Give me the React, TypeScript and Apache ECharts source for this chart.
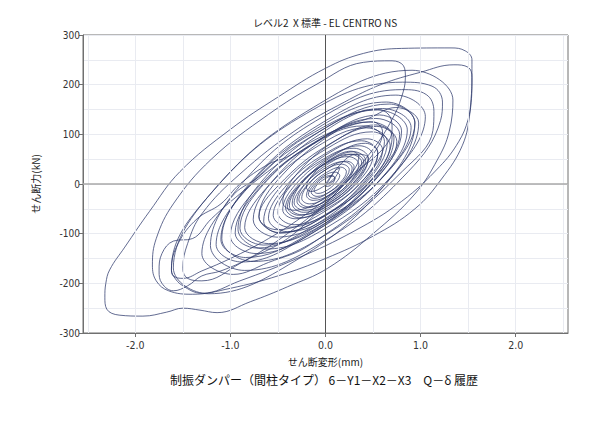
import React, { useEffect, useRef } from "react";
import * as echarts from "echarts";

type P = [number, number];

const chartTitle = "レベル2  X 標準 - EL CENTRO NS";
const subTitle = "制振ダンパー（間柱タイプ） 6－Y1－X2－X3　Q－δ 履歴";
const xAxisName = "せん断変形(mm)";
const yAxisName = "せん断力(kN)";

const xTickValues = [-2, -1, 0, 1, 2];
const xGridValues = [-2.5, -2, -1.5, -1, -0.5, 0.5, 1, 1.5, 2, 2.5];

const earlyCycles: P[] = [
  [0, 0], [0.05, 14], [0.1, 27], [0.15, 32],
  [0.1, 13], [-0.03, -6], [-0.15, -15], [-0.2, -8],
  [-0.12, 22], [0.08, 53], [0.27, 66], [0.35, 55],
  [0.23, 12], [-0.05, -33], [-0.33, -53], [-0.45, -37],
  [-0.28, 25], [0.13, 90], [0.53, 119], [0.7, 96],
  [0.44, -2], [-0.2, -103], [-0.84, -148], [-1.1, -112],
  [-0.8, -2], [-0.08, 113], [0.64, 165], [0.94, 123],
  [0.57, -14], [-0.33, -156], [-1.23, -221], [-1.6, -169],
  [-1.17, -11], [-0.13, 154], [0.91, 229], [1.34, 169],
];

const largeCycles: P[] = [
  [1.3, 105], [1.18, 50], [0.94, -20], [0.5, -100], [0.02, -170], [-0.4, -207],
  [-0.79, -237], [-1.14, -259], [-1.32, -254], [-1.5, -250], [-1.67, -258],
  [-1.92, -266], [-2.17, -264], [-2.3, -252], [-2.32, -228],
  [-2.31, -200], [-2.27, -173], [-2.11, -127], [-1.85, -55], [-1.53, 25], [-1.0, 110],
  [-0.5, 175], [0, 233], [0.4, 263], [0.8, 273], [1.32, 274], [1.47, 268], [1.54, 250], [1.54, 215],
  [1.52, 145], [1.44, 78], [1.22, 10], [0.94, -50], [0.5, -105], [0, -150], [-0.5, -185],
  [-1.0, -210], [-1.4, -222], [-1.65, -215], [-1.78, -195], [-1.82, -163],
  [-1.78, -110], [-1.6, -40], [-1.2, 50], [-0.6, 140], [-0.1, 200], [0.4, 245], [0.7, 248],
  [0.82, 238], [0.84, 215],
  [0.8, 175], [0.7, 130], [0.5, 70], [0.1, -20], [-0.4, -100], [-0.9, -160], [-1.3, -195],
  [-1.45, -190], [-1.5, -170],
  [-1.45, -120], [-1.3, -60], [-0.9, 20], [-0.3, 110], [0.2, 165], [0.58, 200], [1.0, 225],
  [1.35, 240], [1.5, 235], [1.54, 215],
  [1.53, 170], [1.5, 130], [1.4, 85], [1.2, 35], [0.8, -35], [0.3, -95], [-0.3, -150],
  [-0.9, -195], [-1.3, -220], [-1.5, -205], [-1.6, -185], [-1.62, -171],
];

const wigglyCycles: P[] = [
  [-1.55, -120], [-1.35, -70], [-1.1, -40], [-0.9, 0], [-0.6, 40], [-0.4, 55], [-0.1, 95],
  [0.3, 140], [0.55, 150], [0.68, 135], [0.7, 110],
  [0.6, 70], [0.3, 20], [0, -40], [-0.4, -110], [-0.8, -150], [-1.1, -175], [-1.3, -185],
  [-1.45, -205], [-1.6, -215], [-1.72, -200], [-1.75, -175],
  [-1.72, -140], [-1.6, -115], [-1.4, -110], [-1.2, -70], [-0.9, -20], [-0.5, 40], [-0.1, 90],
  [0.3, 120], [0.5, 125], [0.6, 105],
  [0.5, 60], [0.2, 0], [-0.2, -60], [-0.6, -110], [-1.0, -150], [-1.3, -175], [-1.5, -190],
  [-1.6, -185], [-1.62, -171],
];

const mediumCycles: P[] = [
  [-1.2, -18], [-0.2, 142], [0.81, 205], [1.12, 197], [1.23, 165],
  [1.21, 128], [0.87, 25], [0.01, -112], [-0.85, -174], [-1.21, -124],
  [-0.87, 3], [-0.04, 134], [0.8, 190], [1.06, 180], [1.14, 146],
  [1.13, 108], [0.81, 26], [0.03, -99], [-0.76, -156], [-1.09, -110],
  [-0.78, 5], [-0.02, 125], [0.74, 179], [1.05, 136],
  [0.76, 30], [0.07, -81], [-0.63, -131], [-0.92, -91],
  [-0.65, 10], [0.01, 114], [0.67, 161], [0.94, 123],
  [0.69, 32], [0.09, -64], [-0.51, -107], [-0.76, -72],
  [-0.53, 12], [0.02, 99], [0.57, 139], [0.8, 107],
  [0.55, 15], [-0.05, -80], [-0.65, -123], [-0.9, -89],
  [-0.68, -7], [-0.14, 79], [0.4, 117], [0.62, 86],
  [0.43, 15], [-0.04, -59], [-0.51, -92], [-0.7, -66],
];

const laterCycles: P[] = [
  [-0.46, 17], [0.14, 110], [0.45, 132], [0.74, 154], [0.98, 123],
  [0.65, 4], [-0.16, -122], [-0.6, -158], [-0.97, -182], [-1.3, -140],
  [-0.99, -27], [-0.7, 15], [-0.22, 93], [0.55, 149], [0.86, 109],
  [0.59, 12], [-0.07, -91], [-0.73, -140], [-1.0, -105],
  [-0.75, -15], [-0.14, 80], [0.47, 125], [0.72, 93],
  [0.45, -5], [-0.22, -108], [-0.88, -157], [-1.15, -122],
  [-0.85, -15], [-0.13, 98], [0.6, 152], [0.9, 114],
  [0.64, 22], [0.03, -75], [-0.6, -120], [-0.85, -88],
  [-0.63, -10], [-0.1, 74], [0.43, 113], [0.65, 85],
  [0.42, 1], [-0.15, -87], [-0.72, -129], [-0.95, -99],
  [-0.7, -9], [-0.09, 87], [0.53, 132], [0.78, 100],
  [0.56, 23], [0.04, -59], [-0.48, -98], [-0.7, -66],
];

const smallCycles: P[] = [
  [-0.49, -2], [0.03, 79], [0.54, 116], [0.75, 86],
  [0.55, 14], [0.08, -62], [-0.4, -96], [-0.6, -69],
  [-0.43, -7], [-0.03, 58], [0.38, 87], [0.55, 63],
  [0.38, -1], [-0.05, -69], [-0.48, -99], [-0.65, -75],
  [-0.46, -3], [0.02, 72], [0.49, 105], [0.68, 78],
  [0.51, 15], [0.09, -52], [-0.33, -82], [-0.5, -58],
  [-0.34, 2], [0.05, 64], [0.44, 91], [0.6, 69],
  [0.43, 7], [0.03, -58], [-0.38, -87], [-0.55, -63],
  [-0.4, -9], [-0.05, 47], [0.3, 72], [0.45, 52],
  [0.32, 3], [0, -47], [-0.32, -70], [-0.45, -52],
  [-0.31, 0], [0.03, 53], [0.36, 77], [0.5, 58],
  [0.37, 10], [0.06, -39], [-0.25, -62], [-0.38, -44],
  [-0.26, 0], [0.02, 44], [0.3, 65], [0.42, 48],
  [0.3, 4], [0.01, -42], [-0.28, -63], [-0.4, -46],
  [-0.29, -6], [-0.03, 37], [0.24, 55], [0.35, 40],
  [0.26, 5], [0.03, -31], [-0.21, -48], [-0.3, -35],
  [-0.2, 3], [0.05, 43], [0.3, 60], [0.4, 46],
  [0.29, 7], [0.04, -34], [-0.22, -53], [-0.33, -38],
  [-0.24, -5], [-0.03, 29], [0.19, 45], [0.28, 32],
  [0.2, 4], [0.02, -26], [-0.17, -40], [-0.25, -29],
  [-0.17, 1], [0.03, 32], [0.22, 46], [0.3, 35],
  [0.23, 8], [0.05, -21], [-0.13, -33], [-0.2, -23],
  [-0.14, 0], [0.01, 23], [0.16, 34], [0.22, 25],
  [0.16, 4], [0.02, -19], [-0.12, -29], [-0.18, -21],
  [-0.13, -3], [-0.02, 16], [0.1, 24], [0.15, 17],
  [0.11, 3], [0.02, -12], [-0.08, -19], [-0.12, -14],
  [-0.09, -2], [-0.01, 10], [0.07, 16], [0.1, 12],
  [0.05, -3], [0, -5],
];

const tailCycles: P[] = [
  [0.15, 38], [0.33, 60], [0.45, 52],
  [0.33, 9], [0.05, -36], [-0.23, -57], [-0.35, -40],
  [-0.22, 8], [0.1, 59], [0.42, 82], [0.55, 63],
  [0.41, 11], [0.07, -43], [-0.28, -68], [-0.42, -48],
  [-0.3, -5], [-0.02, 40], [0.26, 60], [0.38, 44],
  [0.28, 8], [0.05, -29], [-0.18, -46], [-0.28, -32],
  [-0.2, -4], [-0.02, 26], [0.17, 40], [0.25, 29],
  [0.19, 7], [0.05, -15], [-0.09, -25], [-0.15, -17],
  [-0.11, -3], [-0.03, 12], [0.06, 17], [0.1, 12],
  [0.05, 2], [0, 0],
];

const numFont = "'Liberation Sans Narrow', 'DejaVu Sans Condensed', sans-serif";
const jpFont = "'Noto Sans CJK JP', sans-serif";
const gridColor = "#e9ebf1";
const lineColor = "#2e3a6c";

export default function App() {
  const ref = useRef<HTMLDivElement>(null);
  useEffect(() => {
    if (!ref.current) return;
    const chart = echarts.init(ref.current, undefined, { renderer: "svg" });
    const trace = [
      ...earlyCycles,
      ...largeCycles,
      ...wigglyCycles,
      ...mediumCycles,
      ...laterCycles,
      ...smallCycles,
      ...tailCycles,
    ];
    chart.setOption({
      animation: false,
      backgroundColor: "#ffffff",
      grid: {
        left: 83,
        right: 46,
        top: 35,
        bottom: 90,
        show: true,
        borderColor: "#707070",
        borderWidth: 1,
        containLabel: false,
      },
      graphic: [
        {
          type: "text",
          x: 325,
          y: 22,
          style: {
            text: chartTitle,
            textAlign: "center",
            textVerticalAlign: "middle",
            fontSize: 10,
            fontFamily: jpFont,
            fill: "#222",
          },
        },
        {
          type: "text",
          x: 324,
          y: 379,
          style: {
            text: subTitle,
            textAlign: "center",
            textVerticalAlign: "middle",
            fontSize: 12,
            fontFamily: jpFont,
            fill: "#111",
          },
        },
      ],
      xAxis: {
        type: "value",
        min: -2.55,
        max: 2.55,
        name: xAxisName,
        nameLocation: "middle",
        nameGap: 23,
        nameTextStyle: { fontSize: 10, fontFamily: jpFont, color: "#222" },
        axisLine: { show: true, onZero: false, lineStyle: { color: "#707070" } },
        axisTick: { show: true, customValues: xTickValues, length: 4, lineStyle: { color: "#707070" } },
        axisLabel: {
          customValues: xTickValues,
          formatter: (v: number) => v.toFixed(1),
          fontSize: 10.5,
          fontFamily: numFont,
          color: "#333",
          margin: 6,
        },
        splitLine: { show: false },
      },
      yAxis: {
        type: "value",
        min: -300,
        max: 300,
        interval: 100,
        name: yAxisName,
        nameLocation: "middle",
        nameGap: 43,
        nameTextStyle: { fontSize: 10, fontFamily: jpFont, color: "#222" },
        axisLine: { show: true, onZero: false, lineStyle: { color: "#707070" } },
        axisTick: { show: true, length: 4, lineStyle: { color: "#707070" } },
        axisLabel: { fontSize: 10, fontFamily: numFont, color: "#333", margin: 3 },
        splitLine: { show: true, lineStyle: { color: gridColor, width: 1 } },
        minorTick: { show: false, splitNumber: 2 },
        minorSplitLine: { show: true, lineStyle: { color: gridColor, width: 1 } },
      },
      series: [
        {
          type: "line",
          z: 1,
          data: [[0, 0]],
          showSymbol: false,
          symbol: "none",
          lineStyle: { opacity: 0 },
          silent: true,
          markLine: {
            silent: true,
            symbol: ["none", "none"],
            label: { show: false },
            lineStyle: { color: gridColor, width: 1, type: "solid" },
            data: xGridValues.map((v) => ({ xAxis: v })),
          },
        },
        {
          type: "line",
          z: 3,
          data: trace,
          showSymbol: false,
          symbol: "none",
          smooth: 0.4,
          lineStyle: { color: lineColor, width: 0.75 },
          silent: true,
          markLine: {
            silent: true,
            symbol: ["none", "none"],
            label: { show: false },
            data: [
              { xAxis: 0, lineStyle: { color: "#555", width: 1, type: "solid" } },
              { yAxis: 0, lineStyle: { color: "#a8a8a8", width: 1.5, type: "solid" } },
            ],
          },
        },
      ],
    });
    return () => chart.dispose();
  }, []);
  return (
    <div
      ref={ref}
      style={{ position: "fixed", left: 0, top: 0, width: 614, height: 423, background: "#fff" }}
    />
  );
}
